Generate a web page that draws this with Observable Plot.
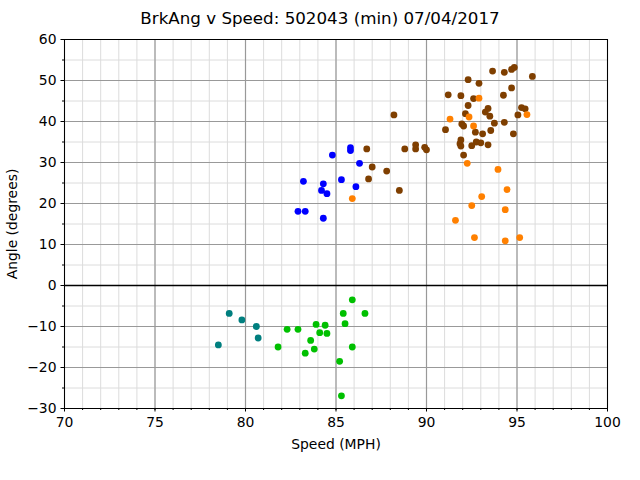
<!DOCTYPE html>
<html>
<head>
<meta charset="utf-8">
<script src="https://cdn.jsdelivr.net/npm/d3@7"></script>
<script src="https://cdn.jsdelivr.net/npm/@observablehq/plot@0.6"></script>
<style>
  body { margin: 0; background: #fff; font-family: "DejaVu Sans", sans-serif; }
  #title { width: 640px; height: 36px; line-height: 36px; text-align: center; font-size: 16.7px; color: #000; }
</style>
</head>
<body>
<div id="title">BrkAng v Speed: 502043 (min) 07/04/2017</div>
<div id="chart"></div>
<script>
// Pitch groups: speed (MPH) and break angle (degrees)
const tealSpeed = [79.1, 79.8, 80.6, 80.7, 78.5];
const tealAngle = [-6.8, -8.4, -10.0, -12.8, -14.5];

const greenSpeed = [85.9, 85.4, 86.6, 85.5, 83.9, 84.4, 82.3, 82.9, 84.1, 84.5, 83.6, 83.8, 81.8, 83.3, 85.9, 85.2, 85.3];
const greenAngle = [-3.5, -6.8, -6.8, -9.3, -9.5, -9.7, -10.7, -10.7, -11.5, -11.7, -13.4, -15.5, -15.0, -16.5, -15.0, -18.5, -26.9];

const blueSpeed = [85.8, 85.8, 84.8, 86.3, 83.2, 84.3, 85.3, 84.2, 84.5, 86.1, 82.9, 83.3, 84.3];
const blueAngle = [33.6, 32.9, 31.8, 29.8, 25.4, 24.8, 25.8, 23.2, 22.4, 24.1, 18.1, 18.1, 16.4];

const brownSpeed = [86.7, 87.0, 87.8, 86.8, 88.5, 88.2, 88.8, 89.4, 89.4, 89.9, 90.0,
  91.05, 91.2, 91.9, 92.3, 92.9, 92.6, 93.65, 94.3, 94.7, 94.85, 95.85, 94.7, 94.25,
  92.3, 92.15, 93.4, 93.25, 93.5, 95.25, 95.45, 95.05, 91.95, 92.05, 92.7, 93.75,
  94.3, 93.1, 93.55, 94.8, 91.9, 91.85, 91.9, 92.5, 92.75, 93.0, 93.4, 92.05];
const brownAngle = [33.3, 28.9, 27.9, 26.0, 23.2, 41.6, 33.3, 34.3, 33.3, 33.7, 33.1,
  38.0, 46.5, 46.3, 50.2, 49.3, 45.6, 52.3, 52.0, 52.7, 53.2, 51.0, 48.2, 46.4,
  43.9, 41.9, 43.2, 42.3, 41.3, 43.4, 43.1, 41.6, 39.4, 38.9, 37.4, 39.6,
  39.8, 37.0, 37.8, 37.0, 35.5, 34.6, 34.0, 34.1, 35.0, 34.8, 34.3, 31.8];

const orangeSpeed = [85.9, 92.9, 92.35, 95.55, 91.3, 92.6, 92.25, 93.95, 94.45, 93.05, 92.5, 91.6, 94.35, 92.65, 94.35, 95.15];
const orangeAngle = [21.2, 45.7, 41.1, 41.7, 40.6, 38.9, 29.8, 28.3, 23.4, 21.7, 19.5, 15.9, 18.5, 11.7, 10.9, 11.7];

const groupNames = ["G1", "G2", "G3", "G4", "G5"];
const groupColors = ["#007f7f", "#00c000", "#0000ff", "#7f3f00", "#ff8000"];

const xMajor = [70, 75, 80, 85, 90, 95, 100];
const yMajor = [-30, -20, -10, 0, 10, 20, 30, 40, 50, 60];
const xMinor = d3.range(70, 101, 1);
const yMinor = d3.range(-30, 61, 5);

const groups = [
  [tealSpeed, tealAngle], [greenSpeed, greenAngle], [blueSpeed, blueAngle],
  [brownSpeed, brownAngle], [orangeSpeed, orangeAngle]
];
const points = [];
groups.forEach(([s, a], gi) => s.forEach((v, i) => points.push({speed: v, angle: a[i], group: groupNames[gi]})));

const chart = Plot.plot({
  width: 640,
  height: 444,
  marginLeft: 64,
  marginRight: 33,
  marginTop: 3,
  marginBottom: 72,
  style: {fontFamily: "DejaVu Sans, sans-serif", fontSize: "13.9px", color: "#000", background: "#fff", overflow: "visible"},
  x: {domain: [70, 100]},
  y: {domain: [-30, 60]},
  color: {type: "ordinal", domain: groupNames, range: groupColors},
  marks: [
    Plot.ruleX(xMinor, {stroke: "#dcdcdc", strokeWidth: 1}),
    Plot.ruleY(yMinor, {stroke: "#dcdcdc", strokeWidth: 1}),
    Plot.ruleX(xMajor, {stroke: "#999999", strokeWidth: 1.2}),
    Plot.ruleY(yMajor, {stroke: "#999999", strokeWidth: 1.2}),
    Plot.ruleY([0], {stroke: "#000", strokeWidth: 1.5}),
    Plot.axisX({ticks: xMinor, tickSize: 2, text: null, label: null, stroke: "#000"}),
    Plot.axisY({ticks: yMinor, tickSize: 2, text: null, label: null, stroke: "#000"}),
    Plot.axisX({ticks: xMajor, tickSize: 3.5, tickPadding: 5, tickFormat: d => d3.format("d")(d), stroke: "#000",
      label: "Speed (MPH)", labelAnchor: "center", labelArrow: "none", labelOffset: 40}),
    Plot.axisY({ticks: yMajor, tickSize: 3.5, tickPadding: 4.5, tickFormat: d => (d < 0 ? "\u2212" + Math.abs(d) : String(d)), stroke: "#000",
      label: "Angle (degrees)", labelAnchor: "center", labelArrow: "none", labelOffset: 57}),
    Plot.dot(points, {x: "speed", y: "angle", fill: "group", r: 3.4, stroke: null}),
    Plot.frame({stroke: "#000", strokeWidth: 1})
  ]
});
document.getElementById("chart").appendChild(chart);
</script>
</body>
</html>
